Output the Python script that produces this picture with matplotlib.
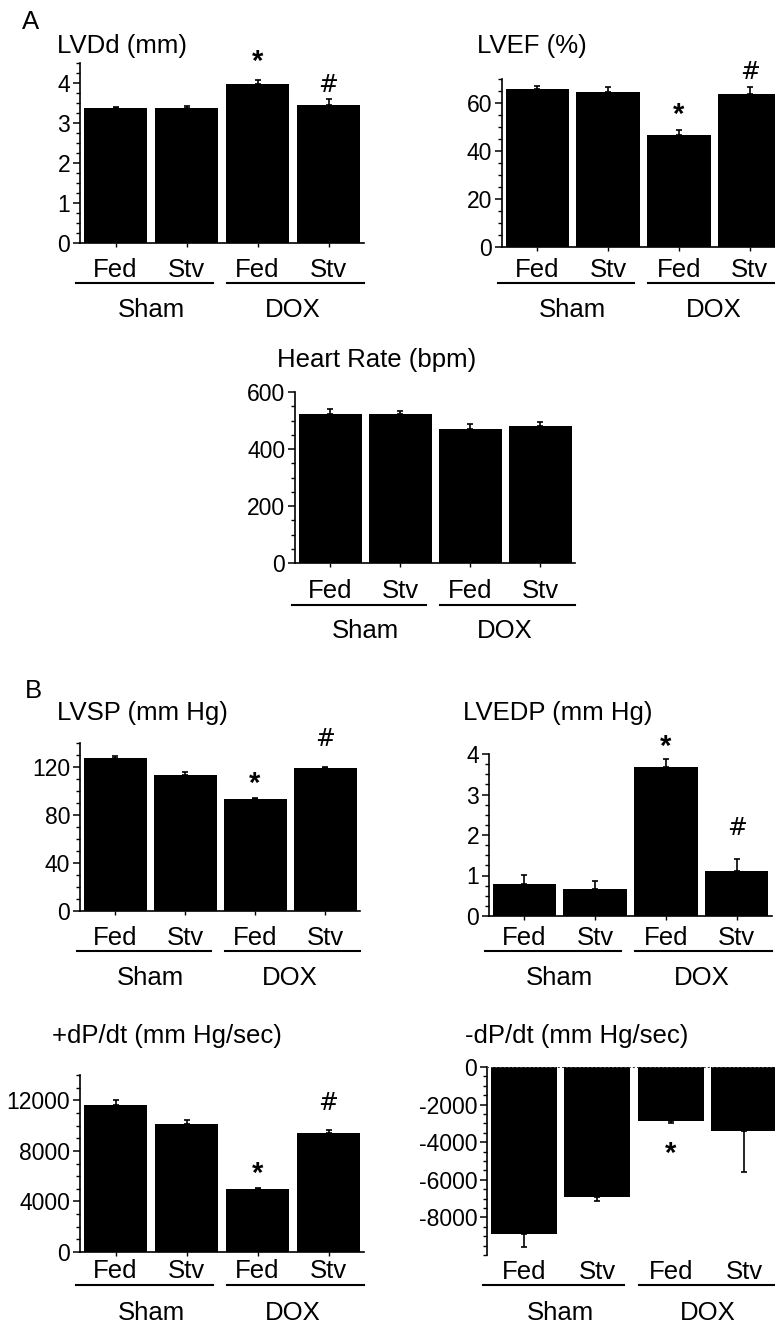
import matplotlib
matplotlib.use('Agg')
import matplotlib.pyplot as plt
from matplotlib import transforms
from matplotlib.ticker import MultipleLocator, FixedLocator

plt.rcParams['font.family'] = ['Liberation Sans', 'DejaVu Sans']
plt.rcParams['axes.unicode_minus'] = False

# data
groups = ['Sham', 'DOX']
diets = ['Fed', 'Stv', 'Fed', 'Stv']

lvdd = [3.37, 3.37, 3.97, 3.45]
lvdd_err = [0.03, 0.06, 0.10, 0.14]
lvef = [65.8, 64.5, 46.7, 63.6]
lvef_err = [1.2, 2.0, 2.1, 2.9]
hr = [523, 523, 470, 481]
hr_err = [17, 10, 18, 14]
lvsp = [127.5, 113, 93, 119]
lvsp_err = [1.7, 2.8, 1.5, 1.2]
lvedp = [0.78, 0.67, 3.68, 1.11]
lvedp_err = [0.23, 0.19, 0.20, 0.29]
dpdt_pos = [11600, 10120, 5020, 9410]
dpdt_pos_err = [450, 320, 80, 250]
dpdt_neg = [-8900, -6900, -2870, -3400]
dpdt_neg_err = [650, 250, 130, 2200]

# y tick values shown with labels
lvdd_ticks = [0, 1, 2, 3, 4]
lvef_ticks = [0, 20, 40, 60]
hr_ticks = [0, 200, 400, 600]
lvsp_ticks = [0, 40, 80, 120]
lvedp_ticks = [0, 1, 2, 3, 4]
dpdt_pos_ticks = [0, 4000, 8000, 12000]
dpdt_neg_ticks = [0, -2000, -4000, -6000, -8000]

# significance marks: (bar index, symbol, y at mark centre)
lvdd_marks = [(2, '*', 4.7), (3, '#', 3.95)]
lvef_marks = [(2, '*', 58), (3, '#', 73)]
lvsp_marks = [(2, '*', 112), (3, '#', 143)]
lvedp_marks = [(2, '*', 4.35), (3, '#', 2.17)]
dpdt_pos_marks = [(2, '*', 6745), (3, '#', 11760)]
dpdt_neg_marks = [(2, '*', -4270)]

W, H = 775, 1324
fig = plt.figure(figsize=(W / 100, H / 100), dpi=100)
FS = 18.5


def panel(box, title, title_xy, vals, errs, ylim, ticks, marks, offs):
    x0, y0, x1, y1 = box
    ax = fig.add_axes([x0 / W, 1 - y1 / H, (x1 - x0) / W, (y1 - y0) / H])
    x = list(range(4))
    neg = vals[0] < 0
    zeros = [0] * 4
    yerr = [errs, zeros] if neg else [zeros, errs]
    ax.bar(x, vals, width=0.9, color='black', zorder=2)
    ax.errorbar(x, vals, yerr=yerr, fmt='none', ecolor='black',
                elinewidth=1.2, capsize=2.5, capthick=1.2, zorder=3)
    ax.set_xlim(-0.5, 3.5)
    ax.set_ylim(*ylim)
    step = abs(ticks[1] - ticks[0])
    ax.yaxis.set_major_locator(FixedLocator(ticks))
    ax.yaxis.set_minor_locator(MultipleLocator(step / 4))
    ax.tick_params(axis='y', which='major', direction='out', length=5,
                   width=1.1, labelsize=16.5, pad=2)
    ax.tick_params(axis='y', which='minor', direction='out', length=3, width=1)
    for s in ['top', 'right']:
        ax.spines[s].set_visible(False)
    ax.spines['left'].set_linewidth(1.2)
    if neg:
        ax.spines['bottom'].set_visible(False)
        ax.axhline(0, color='#444444', linestyle=(0, (1, 1)), linewidth=1.5,
                   zorder=4)
        ax.set_xticks([])
    else:
        ax.spines['bottom'].set_linewidth(1.2)
        ax.set_xticks(x)
        ax.set_xticklabels([])
        ax.tick_params(axis='x', direction='out', length=3, width=1)

    # category labels under the axis
    base = ax.get_xaxis_transform()
    fed_off, line_off, grp_off = offs
    t1 = transforms.offset_copy(base, fig=fig, y=-fed_off, units='dots')
    t2 = transforms.offset_copy(base, fig=fig, y=-line_off, units='dots')
    t3 = transforms.offset_copy(base, fig=fig, y=-grp_off, units='dots')
    for i, d in enumerate(diets):
        ax.text(i, 0, d, transform=t1, ha='center', va='baseline', fontsize=FS)
    for (a, b), g, c in zip([(-0.55, 1.37), (1.57, 3.5)], groups, [0.5, 2.5]):
        ax.plot([a, b], [0, 0], color='black', linewidth=1.5, transform=t2,
                clip_on=False)
        ax.text(c, 0, g, transform=t3, ha='center', va='baseline', fontsize=FS)

    # significance symbols
    for i, sym, yv in marks:
        if sym == '*':
            tr = transforms.offset_copy(ax.transData, fig=fig, y=-15, units='dots')
            ax.text(i, yv, sym, transform=tr, ha='center', va='baseline',
                    fontsize=21, fontweight='bold', clip_on=False)
        else:
            tr = transforms.offset_copy(ax.transData, fig=fig, y=-7, units='dots')
            ax.text(i, yv, sym, transform=tr, ha='center', va='baseline',
                    fontsize=17, family='DejaVu Sans', clip_on=False)

    fig.text(title_xy[0] / W, 1 - title_xy[1] / H, title, ha='left',
             va='baseline', fontsize=FS)
    return ax


panel((80, 63, 364, 243), 'LVDd (mm)', (57, 53), lvdd, lvdd_err,
      (0, 4.5), lvdd_ticks, lvdd_marks, (34, 40, 74))
panel((502, 79, 785, 247), 'LVEF (%)', (477, 53), lvef, lvef_err,
      (0, 70), lvef_ticks, lvef_marks, (30, 36, 70))
panel((295, 392, 575, 563), 'Heart Rate (bpm)', (277, 367), hr, hr_err,
      (0, 600), hr_ticks, [], (35, 42, 75))
panel((80, 743, 360, 911), 'LVSP (mm Hg)', (57, 720), lvsp, lvsp_err,
      (0, 140), lvsp_ticks, lvsp_marks, (34, 40, 74))
panel((489, 754, 772, 916), 'LVEDP (mm Hg)', (463, 720), lvedp, lvedp_err,
      (0, 4), lvedp_ticks, lvedp_marks, (29, 35, 69))
panel((80, 1075, 364, 1252), '+dP/dt (mm Hg/sec)', (52, 1043), dpdt_pos,
      dpdt_pos_err, (0, 14000), dpdt_pos_ticks, dpdt_pos_marks, (26, 33, 68))
panel((487, 1067, 781, 1255), '-dP/dt (mm Hg/sec)', (465, 1043), dpdt_neg,
      dpdt_neg_err, (-10000, 0), dpdt_neg_ticks, dpdt_neg_marks, (24, 30, 65))

fig.text(22 / W, 1 - 29 / H, 'A', fontsize=FS, ha='left', va='baseline')
fig.text(25 / W, 1 - 698 / H, 'B', fontsize=FS, ha='left', va='baseline')

fig.savefig('out.png', dpi=100, facecolor='white')
